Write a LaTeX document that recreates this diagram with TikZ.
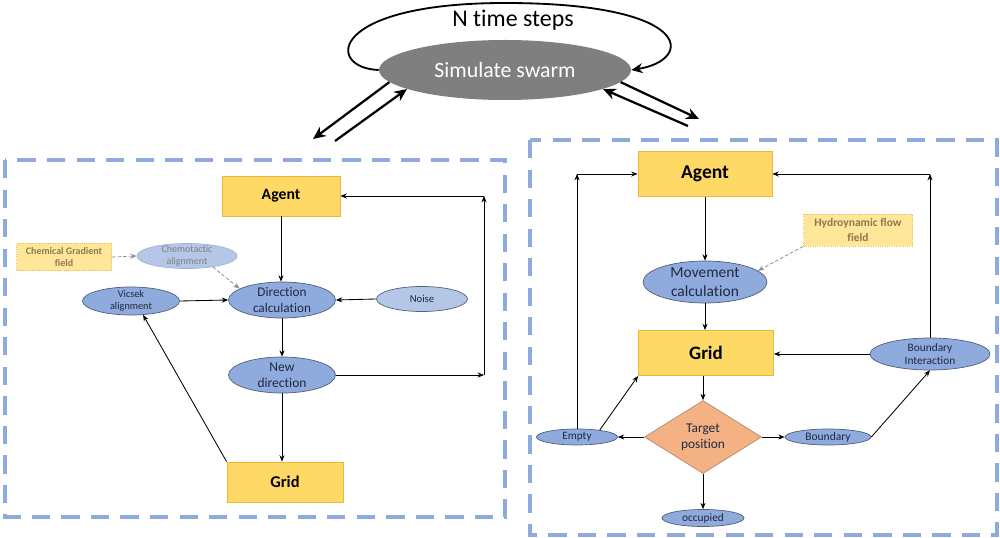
\documentclass[tikz,border=0pt]{standalone}
\usepackage{fontspec}
\setmainfont[Ligatures=NoCommon]{Carlito}
\usetikzlibrary{arrows.meta,shapes.geometric}
\definecolor{agentfill}{HTML}{FFD966}
\definecolor{agentdraw}{HTML}{E9B93A}
\definecolor{ellfill}{HTML}{8FAADC}
\definecolor{elldraw}{HTML}{50607A}
\definecolor{lightfill}{HTML}{B4C7E7}
\definecolor{lightdraw}{HTML}{9FB3D6}
\definecolor{chemfill}{HTML}{FFE699}
\definecolor{chemdraw}{HTML}{E6C35C}
\definecolor{chemtext}{HTML}{8C7A50}
\definecolor{elltext}{HTML}{1E2A40}
\definecolor{diamfill}{HTML}{F4B183}
\definecolor{diamdraw}{HTML}{B08A70}
\definecolor{simgray}{HTML}{7F7F7F}
\definecolor{boxblue}{HTML}{8FAADC}
\newcommand\pxu{0.025cm}
\newcommand\fs[2]{\fontsize{#1}{#2}\selectfont}
\begin{document}
\begin{tikzpicture}[x=0.025cm,y=-0.025cm,
  arr/.style={-{Stealth[length=4.5pt,width=3.6pt]}, line width=0.6pt, draw=black},
  darr/.style={-{Stealth[length=4.5pt,width=3.6pt]}, line width=0.6pt, draw=gray!85, dash pattern=on 2.5pt off 1.5pt},
  bigarr/.style={-{Stealth[length=9pt,width=8pt]}, line width=1.6pt},
  looparr/.style={-{Stealth[length=8pt,width=7pt]}, line width=1.3pt},
  dbox/.style={draw=boxblue, line width=2.8pt, dash pattern=on 13pt off 8pt},
  agentbox/.style={rectangle, fill=agentfill, draw=agentdraw, line width=0.6pt, inner sep=0pt, text=black},
  chembox/.style={rectangle, fill=chemfill, draw=chemdraw, line width=0.6pt, densely dotted, inner sep=0pt, text=chemtext, align=center},
  ell/.style={ellipse, fill=ellfill, draw=elldraw, line width=0.5pt, inner sep=0pt},
  lightell/.style={ellipse, fill=lightfill, draw=lightdraw, line width=0.5pt, inner sep=0pt},
  diam/.style={diamond, fill=diamfill, draw=diamdraw, line width=0.5pt, inner sep=0pt},
  lab/.style={align=center, text=elltext, inner sep=0pt}
]
\useasboundingbox (0,0) rectangle (1000,538);

% top part
\node[ellipse, fill=simgray, draw=none, minimum width=252*\pxu, minimum height=60*\pxu, text=white, font=\fs{15.5}{18}] (sim) at (505,70) {Simulate swarm};
\node[font=\fs{17}{20}] (nts) at (513,20) {N time steps};
\draw[looparr] (sim.west) .. controls (325,68) and (328,3) .. (505,3) .. controls (695,3) and (694,60) .. (sim.east);
\coordinate (la1) at (313,139);
\coordinate (la2) at (335,141);
\coordinate (ra1) at (699,119);
\coordinate (ra2) at (688,126);
\draw[bigarr] (sim.186) -- (la1);
\draw[bigarr] (la2) -- (sim.191);
\draw[bigarr] (sim.354) -- (ra1);
\draw[bigarr] (ra2) -- (sim.349);

% dashed boxes
\draw[dbox] (5,160) rectangle (505,517);
\draw[dbox] (530,140) rectangle (997,535);

% left panel
\node[agentbox, minimum width=118*\pxu, minimum height=40*\pxu, font=\bfseries\fs{11.2}{13}] (la) at (281,196) {Agent};
\node[ell, minimum width=107*\pxu, minimum height=36*\pxu, label={[lab, font=\fs{9.4}{11.3}]center:Direction\\calculation}] (ldc) at (282,300) {};
\node[ell, minimum width=97*\pxu, minimum height=28*\pxu, label={[lab, font=\fs{7.3}{8.8}]center:Vicsek\\alignment}] (vic) at (131,301) {};
\node[lightell, minimum width=100*\pxu, minimum height=25*\pxu, label={[lab, text=gray, font=\fs{7.1}{8.5}]center:Chemotactic\\alignment}] (chemo) at (187,256) {};
\node[chembox, minimum width=95*\pxu, minimum height=27*\pxu, font=\bfseries\fs{7.1}{8.5}] (chem) at (64,257) {Chemical Gradient\\field};
\node[lightell, draw=elldraw, minimum width=91*\pxu, minimum height=25*\pxu, label={[lab, font=\fs{7.6}{9}]center:Noise}] (noise) at (422,299) {};
\node[ell, minimum width=107*\pxu, minimum height=36*\pxu, label={[lab, font=\fs{9.6}{11.5}]center:New\\direction}] (nd) at (282,375) {};
\node[agentbox, minimum width=116*\pxu, minimum height=40*\pxu, font=\bfseries\fs{11.7}{14}] (lg) at (285,482) {Grid};

\draw[arr] (la.south) -- (la.south |- ldc.north);
\draw[arr] (vic.east) -- (ldc.west);
\draw[arr] (noise.west) -- (ldc.east);
\draw[darr] (chem.east) -- (chemo.west);
\draw[darr] (chemo.-23) -- (ldc.165);
\draw[arr] (ldc.south) -- (nd.north);
\draw[arr] (nd.south) -- (nd.south |- lg.north);
\coordinate (lc1) at (484,375);
\coordinate (lc2) at (484,196);
\draw[arr] (nd.east) -- (lc1);
\draw[arr] (lc1) -- (lc2);
\draw[arr] (lc2) -- (la.east);
\draw[arr] (lg.north west) -- (vic.-49);

% right panel
\node[agentbox, minimum width=134*\pxu, minimum height=45*\pxu, font=\bfseries\fs{13.9}{16}] (ra) at (705,174) {Agent};
\node[chembox, minimum width=109*\pxu, minimum height=32*\pxu, font=\bfseries\fs{8.2}{10}] (hyd) at (858,230) {Hydroynamic flow\\field};
\node[ell, minimum width=124*\pxu, minimum height=42*\pxu, label={[lab, font=\fs{11}{13.2}]center:Movement\\calculation}] (mc) at (705,282) {};
\node[agentbox, minimum width=135*\pxu, minimum height=45*\pxu, font=\bfseries\fs{13.5}{16}] (rg) at (706,353) {Grid};
\node[ell, minimum width=120*\pxu, minimum height=32*\pxu, label={[lab, font=\fs{8.1}{9.8}]center:Boundary\\Interaction}] (bi) at (930,354) {};
\node[diam, minimum width=117*\pxu, minimum height=73*\pxu, label={[lab, font=\fs{9.5}{11.4}]center:Target\\position}] (tp) at (703,437) {};
\node[ell, minimum width=81*\pxu, minimum height=16*\pxu, label={[lab, font=\fs{8}{9.6}]center:Empty}] (emp) at (577,437) {};
\node[ell, minimum width=86*\pxu, minimum height=16*\pxu, label={[lab, font=\fs{8.2}{9.8}]center:Boundary}] (bd) at (828,437) {};
\node[ell, minimum width=82*\pxu, minimum height=17*\pxu, label={[lab, font=\fs{8.1}{9.7}]center:occupied}] (occ) at (703,518) {};

\draw[arr] (ra.south) -- (ra.south |- mc.north);
\draw[darr] (hyd.south west) -- (mc.12);
\draw[arr] (mc.south) -- (mc.south |- rg.north);
\draw[arr] (rg.south -| tp.north) -- (tp.north);
\draw[arr] (tp.west) -- (emp.east);
\draw[arr] (tp.east) -- (bd.west);
\draw[arr] (tp.south) -- (occ.north);
\draw[arr] (emp.17) -- (rg.south west);
\coordinate (rc1) at (emp.north |- ra.west);
\draw[arr] (emp.north) -- (rc1);
\draw[arr] (rc1) -- (ra.west);
\draw[arr] (bd.east) -- (bi.south);
\draw[arr] (bi.west) -- (bi.west -| rg.east);
\coordinate (rc2) at (bi.north |- ra.east);
\draw[arr] (bi.north) -- (rc2);
\draw[arr] (rc2) -- (ra.east);
\end{tikzpicture}
\end{document}
